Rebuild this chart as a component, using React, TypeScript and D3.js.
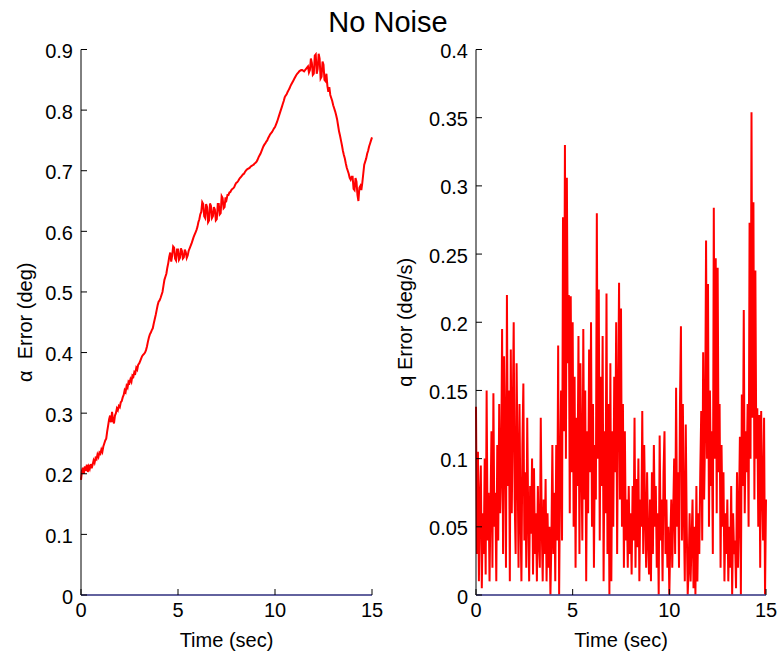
import React from "react";
import * as d3 from "d3";

const title = "No Noise";
const xTicks = [0, 5, 10, 15];
const leftYTicks = [0, 0.1, 0.2, 0.3, 0.4, 0.5, 0.6, 0.7, 0.8, 0.9];
const rightYTicks = [0, 0.05, 0.1, 0.15, 0.2, 0.25, 0.3, 0.35, 0.4];
const leftYLabel = "\u03b1\u00a0 Error (deg)";
const rightYLabel = "q Error (deg/s)";
const xLabel = "Time (sec)";

// alpha error, sampled every 0.05 s from t=0 to t=15
const alphaErr = [
  0.19, 0.205, 0.21, 0.2, 0.212, 0.205, 0.215, 0.203, 0.212, 0.208, 0.216, 0.209, 0.215, 0.222, 0.218, 0.226, 0.224, 0.232, 0.228, 0.235,
  0.233, 0.24, 0.236, 0.245, 0.25, 0.255, 0.258, 0.27, 0.28, 0.29, 0.296, 0.285, 0.302, 0.288, 0.283, 0.296, 0.3, 0.308, 0.305, 0.312,
  0.31, 0.318, 0.32, 0.326, 0.33, 0.338, 0.335, 0.345, 0.342, 0.352, 0.35, 0.356, 0.352, 0.362, 0.36, 0.368, 0.366, 0.375, 0.372, 0.38,
  0.382, 0.386, 0.39, 0.394, 0.396, 0.398, 0.4, 0.404, 0.41, 0.418, 0.425, 0.43, 0.433, 0.437, 0.44, 0.448, 0.455, 0.462, 0.47, 0.478,
  0.484, 0.486, 0.49, 0.495, 0.5, 0.51, 0.52, 0.525, 0.53, 0.54, 0.548, 0.558, 0.565, 0.55, 0.56, 0.575, 0.573, 0.555, 0.552, 0.57,
  0.57, 0.553, 0.556, 0.572, 0.568, 0.555, 0.557, 0.57, 0.566, 0.556, 0.56, 0.568, 0.572, 0.576, 0.58, 0.585, 0.59, 0.594, 0.598, 0.602,
  0.607, 0.615, 0.62, 0.628, 0.632, 0.648, 0.645, 0.625, 0.622, 0.645, 0.64, 0.615, 0.618, 0.646, 0.642, 0.622, 0.625, 0.64, 0.636, 0.618,
  0.62, 0.645, 0.645, 0.628, 0.63, 0.658, 0.655, 0.638, 0.64, 0.656, 0.652, 0.66, 0.66, 0.664, 0.665, 0.668, 0.67, 0.671, 0.673, 0.677,
  0.68, 0.681, 0.683, 0.686, 0.688, 0.69, 0.692, 0.694, 0.695, 0.698, 0.7, 0.702, 0.703, 0.704, 0.705, 0.707, 0.708, 0.709, 0.71, 0.712,
  0.713, 0.715, 0.718, 0.722, 0.725, 0.728, 0.732, 0.736, 0.74, 0.743, 0.745, 0.748, 0.75, 0.754, 0.757, 0.76, 0.762, 0.764, 0.767, 0.77,
  0.772, 0.776, 0.78, 0.785, 0.79, 0.795, 0.8, 0.805, 0.81, 0.815, 0.821, 0.824, 0.826, 0.83, 0.833, 0.836, 0.84, 0.843, 0.846, 0.849,
  0.852, 0.855, 0.858, 0.86, 0.862, 0.864, 0.865, 0.866, 0.866, 0.865, 0.864, 0.866, 0.868, 0.87, 0.872, 0.862, 0.866, 0.885, 0.878, 0.858,
  0.86, 0.89, 0.892, 0.86, 0.868, 0.893, 0.885, 0.852, 0.855, 0.88, 0.875, 0.85, 0.848, 0.86, 0.84, 0.83, 0.838, 0.825, 0.82, 0.815,
  0.808, 0.803, 0.798, 0.792, 0.785, 0.775, 0.765, 0.758, 0.75, 0.742, 0.733, 0.726, 0.72, 0.712, 0.705, 0.7, 0.695, 0.688, 0.685, 0.69,
  0.69, 0.67, 0.668, 0.688, 0.682, 0.66, 0.65, 0.672, 0.675, 0.668, 0.68, 0.695, 0.71, 0.715, 0.72, 0.728, 0.733, 0.74, 0.745, 0.75,
  0.755,
];

// q error, sampled every 0.05 s from t=0 to t=15
const qErr = [
  0.138, 0.03, 0.105, 0.01, 0.07, 0.095, 0.005, 0.06, 0.03, 0.1, 0.015, 0.15, 0.04, 0.075, 0.01, 0.065, 0.12, 0.02, 0.148, 0.05,
  0.075, 0.01, 0.11, 0.04, 0.14, 0.06, 0.09, 0.195, 0.03, 0.175, 0.12, 0.02, 0.22, 0.08, 0.15, 0.01, 0.18, 0.06, 0.13, 0.2,
  0.07, 0.03, 0.17, 0.1, 0.02, 0.14, 0.06, 0.01, 0.11, 0.155, 0.04, 0.09, 0.02, 0.13, 0.06, 0.01, 0.08, 0.045, 0.1, 0.015,
  0.093, 0.03, 0.06, 0.01, 0.08, 0.04, 0.02, 0.13, 0.05, 0.01, 0.07, 0.03, 0.085, 0.01, 0.06, 0.02, 0.05, 0.0, 0.04, 0.11,
  0.03, 0.075, 0.01, 0.11, 0.04, 0.183, 0.0, 0.09, 0.15, 0.04, 0.277, 0.12, 0.33, 0.1, 0.306, 0.17, 0.22, 0.06, 0.219, 0.09,
  0.2, 0.05, 0.16, 0.02, 0.13, 0.08, 0.19, 0.03, 0.17, 0.1, 0.04, 0.195, 0.07, 0.15, 0.01, 0.12, 0.06, 0.18, 0.09, 0.2,
  0.05, 0.14, 0.02, 0.11, 0.07, 0.28, 0.1, 0.224, 0.04, 0.16, 0.08, 0.19, 0.01, 0.12, 0.06, 0.221, 0.03, 0.14, 0.0, 0.17,
  0.01, 0.12, 0.05, 0.16, 0.09, 0.2, 0.03, 0.14, 0.229, 0.07, 0.21, 0.05, 0.14, 0.02, 0.12, 0.04, 0.07, 0.02, 0.08, 0.03,
  0.06, 0.015, 0.08, 0.04, 0.13, 0.02, 0.085, 0.035, 0.1, 0.01, 0.07, 0.05, 0.135, 0.03, 0.11, 0.06, 0.02, 0.09, 0.04, 0.015,
  0.07, 0.01, 0.09, 0.03, 0.11, 0.05, 0.08, 0.02, 0.06, 0.0, 0.117, 0.04, 0.07, 0.01, 0.09, 0.12, 0.03, 0.07, 0.02, 0.05,
  0.0, 0.04, 0.07, 0.02, 0.06, 0.1, 0.03, 0.152, 0.05, 0.09, 0.02, 0.14, 0.197, 0.04, 0.14, 0.06, 0.01, 0.125, 0.05, 0.0,
  0.02, 0.06, 0.01, 0.04, 0.07, 0.005, 0.05, 0.0, 0.08, 0.01, 0.06, 0.03, 0.09, 0.135, 0.04, 0.178, 0.07, 0.12, 0.26, 0.1,
  0.228, 0.05, 0.15, 0.08, 0.12, 0.03, 0.284, 0.1, 0.247, 0.06, 0.24, 0.09, 0.14, 0.02, 0.11, 0.05, 0.09, 0.01, 0.06, 0.03,
  0.07, 0.01, 0.05, 0.02, 0.08, 0.0, 0.06, 0.03, 0.04, 0.005, 0.09, 0.02, 0.06, 0.116, 0.0, 0.147, 0.08, 0.209, 0.06, 0.12,
  0.09, 0.14, 0.05, 0.273, 0.1, 0.354, 0.13, 0.288, 0.07, 0.238, 0.1, 0.137, 0.05, 0.132, 0.02, 0.135, 0.08, 0.04, 0.13, 0.0,
  0.07,
];

const FONT = "'Liberation Sans', Arial, Helvetica, sans-serif";

type PanelProps = {
  x0: number;
  x1: number;
  yMax: number;
  yTicks: number[];
  yLabel: string;
  yLabelX: number;
  data: number[];
  dt: number;
};

function Panel({ x0, x1, yMax, yTicks, yLabel, yLabelX, data, dt }: PanelProps) {
  const top = 49.5;
  const bottom = 595;
  const x = d3.scaleLinear().domain([0, 15]).range([x0, x1]);
  const y = d3.scaleLinear().domain([0, yMax]).range([bottom, top]);
  const line = d3
    .line<number>()
    .x((_, i) => x(i * dt))
    .y((d) => y(d));
  const zeroLine = d3
    .line<number>()
    .x((d) => x(d))
    .y(() => y(0));
  const fmt = (v: number) => String(+v.toFixed(2));
  const tl = 6;
  return (
    <g>
      <path d={line(data) || ""} fill="none" stroke="#ff0000" strokeWidth={2} strokeLinejoin="miter" strokeMiterlimit={4} />
      <line x1={x0} x2={x0} y1={top} y2={bottom} stroke="#000" strokeWidth={1} />
      <line x1={x0} x2={x1} y1={bottom} y2={bottom} stroke="#000" strokeWidth={1} />
      <path d={zeroLine([0, 15]) || ""} fill="none" stroke="#5858a8" strokeWidth={1.6} />
      {yTicks.map((t) => (
        <g key={"y" + t}>
          <line x1={x0} x2={x0 + tl} y1={y(t)} y2={y(t)} stroke="#000" strokeWidth={1} />
          <text x={x0 - 8} y={y(t) + 8.5} textAnchor="end" fontSize={20} fontFamily={FONT} fill="#000">
            {fmt(t)}
          </text>
        </g>
      ))}
      {xTicks.map((t) => (
        <g key={"x" + t}>
          <line x1={x(t)} x2={x(t)} y1={bottom} y2={bottom - tl} stroke="#000" strokeWidth={1} />
          <text x={x(t)} y={bottom + 22} textAnchor="middle" fontSize={20} fontFamily={FONT} fill="#000">
            {fmt(t)}
          </text>
        </g>
      ))}
      <text
        x={(x0 + x1) / 2}
        y={647}
        textAnchor="middle"
        fontSize={20}
        fontFamily={FONT}
        fill="#000"
      >
        {xLabel}
      </text>
      <text
        transform={`translate(${yLabelX},${(top + bottom) / 2}) rotate(-90)`}
        textAnchor="middle"
        fontSize={20}
        fontFamily={FONT}
        fill="#000"
      >
        {yLabel}
      </text>
    </g>
  );
}

export default function App() {
  return (
    <div style={{ position: "fixed", left: 0, top: 0, width: 780, height: 656, background: "#fff" }}>
      <svg width={780} height={656} viewBox="0 0 780 656" style={{ display: "block" }}>
        <rect x={0} y={0} width={780} height={656} fill="#fff" />
        <text x={388} y={31.5} textAnchor="middle" fontSize={29} fontFamily={FONT} fill="#000">
          {title}
        </text>
        <Panel x0={81} x1={372} yMax={0.9} yTicks={leftYTicks} yLabel={leftYLabel} yLabelX={32} data={alphaErr} dt={0.05} />
        <Panel x0={476} x1={766} yMax={0.4} yTicks={rightYTicks} yLabel={rightYLabel} yLabelX={412} data={qErr} dt={0.05} />
      </svg>
    </div>
  );
}
